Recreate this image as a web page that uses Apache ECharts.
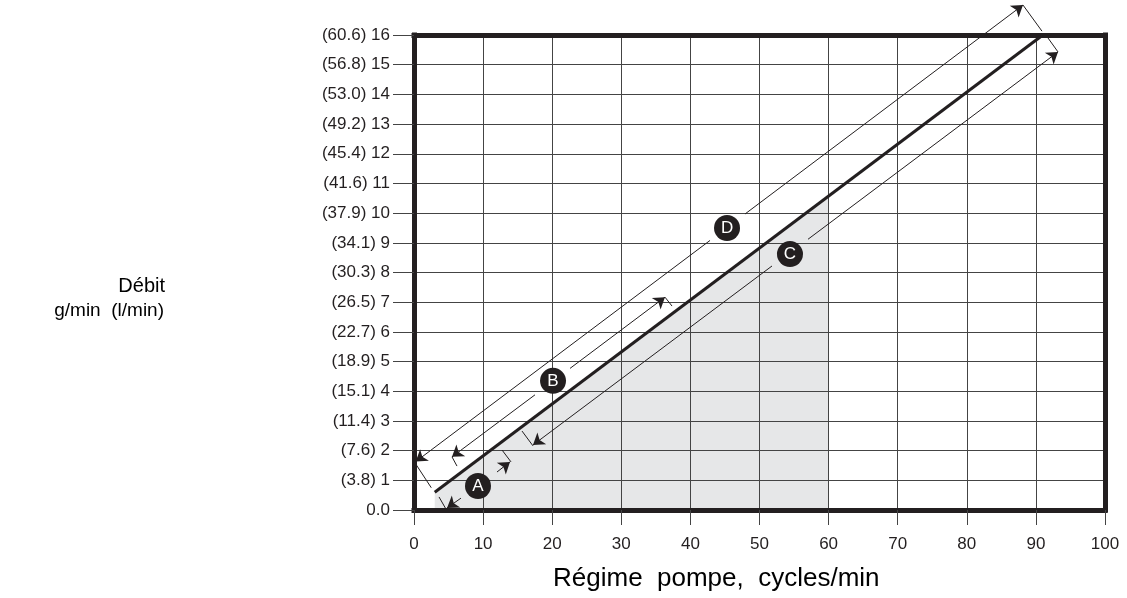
<!DOCTYPE html>
<html>
<head>
<meta charset="utf-8">
<script src="https://cdn.jsdelivr.net/npm/echarts@6/dist/echarts.min.js"></script>
<style>
  html, body { margin: 0; padding: 0; background: #fff; }
  #chart { width: 1127px; height: 598px; }
</style>
</head>
<body>
<div id="chart"></div>
<script>
  // y tick labels: g/min with l/min in brackets
  const yTickLabels = ['0.0', '(3.8) 1', '(7.6) 2', '(11.4) 3', '(15.1) 4', '(18.9) 5', '(22.7) 6',
    '(26.5) 7', '(30.3) 8', '(34.1) 9', '(37.9) 10', '(41.6) 11', '(45.4) 12', '(49.2) 13',
    '(53.0) 14', '(56.8) 15', '(60.6) 16']

  // main flow line and shaded zone under it
  const mainLine = [[3, 0.6], [91, 16]]
  const shadeLine = [[3, 0.6], [60, 10.58]]

  // dimension segments [xFrom, yFrom, xTip, yTip], arrow at the tip
  const dimA = [[6.8, 0.4, 4.78, 0.07], [12.01, 1.28, 13.89, 1.62]]
  const dimB = [[17.51, 3.88, 5.5, 1.79], [22.58, 4.77, 36.32, 7.17]]
  const dimC = [[51.81, 8.22, 17.22, 2.19], [57.02, 9.12, 93.2, 15.43]]
  const dimD = [[42.84, 9.08, 0.25, 1.63], [47.9, 9.97, 88.13, 17.01]]

  // extension ticks at the ends of the dimension lines
  const extTicks = [
    [0.25, 1.55, 2.5, 0.75], [88.13, 17.01, 90.88, 16.13],
    [91.75, 15.9, 93.2, 15.43], [15.63, 2.66, 17.22, 2.16],
    [36.32, 7.17, 37.34, 6.87], [5.5, 1.79, 6.22, 1.48],
    [12.74, 2.02, 14.04, 1.62], [3.62, 0.44, 4.63, 0.03]
  ]

  // circled letters
  const markerNames = ['A', 'B', 'C', 'D']
  const markerX = [9.26, 20.12, 54.41, 45.3]
  const markerY = [0.81, 4.35, 8.62, 9.5]

  const font = '"Liberation Sans", Arial, Helvetica, sans-serif'
  const ink = '#231f20'

  function toSegs(list) {
    return list.map(s => ({ coords: [[s[0], s[1]], [s[2], s[3]]] }))
  }

  const frameAxis = {
    axisLine: { show: true, onZero: false, lineStyle: { color: ink, width: 5, cap: 'square' } },
    axisTick: { show: false },
    axisLabel: { show: false },
    splitLine: { show: false }
  }

  const chart = echarts.init(document.getElementById('chart'))
  chart.setOption({
    animation: false,
    backgroundColor: '#fff',
    grid: { left: 414, right: 22, top: 35, bottom: 88, show: false },
    xAxis: [
      {
        type: 'value', min: 0, max: 100, interval: 10, position: 'bottom', z: 1,
        axisLine: { show: true, onZero: false, lineStyle: { color: ink, width: 5, cap: 'square' } },
        axisTick: { show: true, inside: false, length: 15, lineStyle: { color: '#444', width: 1 } },
        axisLabel: { margin: 26, color: ink, fontSize: 17, fontFamily: font },
        splitLine: { show: true, showMinLine: false, showMaxLine: false, lineStyle: { color: '#444', width: 1 } }
      },
      Object.assign({ type: 'value', min: 0, max: 100, position: 'top', z: 1 }, frameAxis)
    ],
    yAxis: [
      {
        type: 'value', min: 0, max: 16, interval: 1, position: 'left', z: 1,
        axisLine: { show: true, onZero: false, lineStyle: { color: ink, width: 5, cap: 'square' } },
        axisTick: { show: true, inside: false, length: 21, lineStyle: { color: '#444', width: 1 } },
        axisLabel: {
          margin: 24, color: ink, fontSize: 17, fontFamily: font,
          formatter: v => yTickLabels[Math.round(v)]
        },
        splitLine: { show: true, showMinLine: false, showMaxLine: false, lineStyle: { color: '#444', width: 1 } }
      },
      Object.assign({ type: 'value', min: 0, max: 16, position: 'right', z: 1 }, frameAxis)
    ],
    graphic: [
      {
        type: 'text', right: 1127 - 165, top: 276,
        style: { text: 'Débit', fontSize: 20, fontFamily: font, fill: '#000', textAlign: 'right' }
      },
      {
        type: 'text', right: 1127 - 164, top: 301,
        style: { text: 'g/min  (l/min)', fontSize: 19, fontFamily: font, fill: '#000', textAlign: 'right' }
      },
      {
        type: 'text', left: 553, top: 566,
        style: { text: 'Régime  pompe,  cycles/min', fontSize: 26, fontFamily: font, fill: '#000' }
      }
    ],
    series: [
      {
        type: 'line', data: shadeLine, z: 0, symbol: 'none', silent: true,
        lineStyle: { width: 0, opacity: 0 },
        areaStyle: { color: '#e6e7e8', opacity: 1 }
      },
      {
        type: 'line', data: mainLine, z: 3, symbol: 'none', silent: true,
        lineStyle: { color: ink, width: 3 }
      },
      {
        type: 'lines', coordinateSystem: 'cartesian2d', z: 3, clip: false, silent: true,
        symbol: ['none', 'arrow'], symbolSize: 11,
        lineStyle: { color: ink, width: 1, opacity: 1, curveness: 0 },
        data: toSegs(dimA.concat(dimB, dimC, dimD))
      },
      {
        type: 'lines', coordinateSystem: 'cartesian2d', z: 3, clip: false, silent: true,
        symbol: 'none',
        lineStyle: { color: ink, width: 1, opacity: 1, curveness: 0 },
        data: toSegs(extTicks)
      },
      {
        type: 'scatter', z: 4, silent: true, symbol: 'circle', symbolSize: 26,
        itemStyle: { color: ink, opacity: 1 },
        label: {
          show: true, position: 'inside', color: '#fff', fontSize: 17, fontFamily: font,
          formatter: p => p.value[2]
        },
        data: markerX.map((x, i) => [x, markerY[i], markerNames[i]])
      }
    ]
  })
</script>
</body>
</html>
